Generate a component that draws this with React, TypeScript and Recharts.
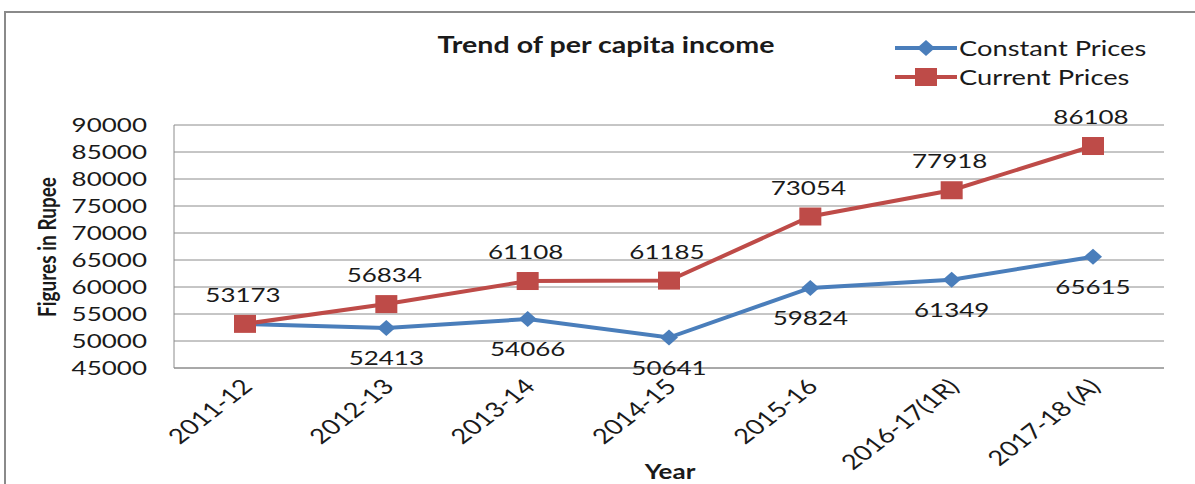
import React from "react";
import { LineChart, Line, XAxis, YAxis, CartesianGrid, LabelList } from "recharts";

const years = ["2011-12", "2012-13", "2013-14", "2014-15", "2015-16", "2016-17(1R)", "2017-18 (A)"];
const constantPrices = [53173, 52413, 54066, 50641, 59824, 61349, 65615];
const currentPrices = [53173, 56834, 61108, 61185, 73054, 77918, 86108];
const yTicks = [45000, 50000, 55000, 60000, 65000, 70000, 75000, 80000, 85000, 90000];

const data = years.map((year, i) => ({
  year,
  constant: constantPrices[i],
  current: currentPrices[i],
}));

const SX = 1.3; // the picture is stretched sideways
const FONT = "Lato, 'Liberation Sans', sans-serif";
const BLUE = "#4A7EBB";
const RED = "#BE4B48";
const GRID = "#8C8C8C";
const INK = "#1a1a1a";

function YTick({ x, y, payload }: any) {
  return (
    <text
      transform={`translate(${x},${y}) scale(${SX},1)`}
      textAnchor="end"
      dy="0.36em"
      fontFamily={FONT}
      fontSize={20}
      fill={INK}
    >
      {payload.value}
    </text>
  );
}

function XTick({ x, y, payload }: any) {
  return (
    <text
      transform={`translate(${x + 9},${y + 18}) scale(${SX},1) rotate(-45)`}
      textAnchor="end"
      fontFamily={FONT}
      fontSize={21}
      fill={INK}
    >
      {payload.value}
    </text>
  );
}

function Diamond({ cx, cy }: any) {
  if (cx == null || cy == null) return null;
  return (
    <polygon
      points={`${cx},${cy - 8} ${cx + 9},${cy} ${cx},${cy + 8} ${cx - 9},${cy}`}
      fill={BLUE}
    />
  );
}

function Square({ cx, cy }: any) {
  if (cx == null || cy == null) return null;
  return <rect x={cx - 11} y={cy - 9} width={22} height={18} fill={RED} />;
}

function pointOf(props: any) {
  const vb = props.viewBox || {};
  return { x: props.x ?? vb.x, y: props.y ?? vb.y };
}

function BelowLabel(props: any) {
  const { x, y } = pointOf(props);
  if (props.index === 0 || x == null) return null;
  return (
    <text
      transform={`translate(${x},${y + 37}) scale(${SX},1)`}
      textAnchor="middle"
      fontFamily={FONT}
      fontSize={20}
      fill={INK}
    >
      {props.value}
    </text>
  );
}

function AboveLabel(props: any) {
  const { x, y } = pointOf(props);
  if (x == null) return null;
  return (
    <text
      transform={`translate(${x - 2},${y - 22}) scale(${SX},1)`}
      textAnchor="middle"
      fontFamily={FONT}
      fontSize={20}
      fill={INK}
    >
      {props.value}
    </text>
  );
}

function LegendRow({ color, label, square }: { color: string; label: string; square?: boolean }) {
  return (
    <div style={{ display: "flex", alignItems: "center", height: 29 }}>
      <svg width={64} height={22}>
        <line x1={0} y1={11} x2={62} y2={11} stroke={color} strokeWidth={4} />
        {square ? (
          <rect x={20} y={2} width={22} height={18} fill={color} />
        ) : (
          <polygon points="31,3 40,11 31,19 22,11" fill={color} />
        )}
      </svg>
      <span
        style={{
          display: "inline-block",
          transform: `scaleX(${SX})`,
          transformOrigin: "left center",
          fontSize: 21,
          color: INK,
          whiteSpace: "nowrap",
        }}
      >
        {label}
      </span>
    </div>
  );
}

export default function App() {
  return (
    <div
      style={{
        position: "absolute",
        left: 0,
        top: 0,
        width: 1195,
        height: 484,
        background: "#FFFFFF",
        overflow: "hidden",
        fontFamily: FONT,
      }}
    >
      <div
        style={{
          position: "absolute",
          left: 4,
          top: 11,
          width: 1220,
          height: 520,
          border: "2px solid #8a8a8a",
        }}
      />
      <div style={{ position: "absolute", left: 0, top: 0 }}>
        <LineChart width={1195} height={484} data={data} margin={{ top: 125, right: 31, left: 0, bottom: 0 }}>
          <CartesianGrid vertical={false} stroke={GRID} strokeWidth={1} />
          <XAxis
            dataKey="year"
            interval={0}
            height={116}
            padding={{ left: 71, right: 71 }}
            axisLine={{ stroke: GRID }}
            tickLine={false}
            tickSize={0}
            tick={<XTick />}
          />
          <YAxis
            width={174}
            domain={[45000, 90000]}
            ticks={yTicks}
            axisLine={{ stroke: GRID }}
            tickLine={false}
            tickSize={0}
            tickMargin={27}
            tick={<YTick />}
          />
          <YAxis
            yAxisId="frame"
            orientation="right"
            width={0}
            domain={[45000, 90000]}
            tick={false}
            tickLine={false}
            axisLine={{ stroke: GRID }}
          />
          <Line
            dataKey="constant"
            stroke={BLUE}
            strokeWidth={4}
            dot={<Diamond />}
            activeDot={false}
            isAnimationActive={false}
          >
            <LabelList dataKey="constant" content={<BelowLabel />} />
          </Line>
          <Line
            dataKey="current"
            stroke={RED}
            strokeWidth={4}
            dot={<Square />}
            activeDot={false}
            isAnimationActive={false}
          >
            <LabelList dataKey="current" content={<AboveLabel />} />
          </Line>
        </LineChart>
      </div>
      <div
        style={{
          position: "absolute",
          left: 606,
          top: 44,
          transform: `translate(-50%,-50%) scaleX(${SX})`,
          fontSize: 22,
          fontWeight: 700,
          color: INK,
          whiteSpace: "nowrap",
        }}
      >
        Trend of per capita income
      </div>
      <div style={{ position: "absolute", left: 895, top: 33 }}>
        <LegendRow color={BLUE} label="Constant Prices" />
        <LegendRow color={RED} label="Current Prices" square />
      </div>
      <div
        style={{
          position: "absolute",
          left: 46,
          top: 247,
          transform: `translate(-50%,-50%) scale(${SX},1) rotate(-90deg)`,
          fontSize: 19,
          fontWeight: 700,
          color: INK,
          whiteSpace: "nowrap",
        }}
      >
        Figures in Rupee
      </div>
      <div
        style={{
          position: "absolute",
          left: 670,
          top: 471,
          transform: `translate(-50%,-50%) scaleX(${SX})`,
          fontSize: 20,
          fontWeight: 700,
          lineHeight: "22px",
          color: INK,
          whiteSpace: "nowrap",
        }}
      >
        Year
      </div>
    </div>
  );
}
